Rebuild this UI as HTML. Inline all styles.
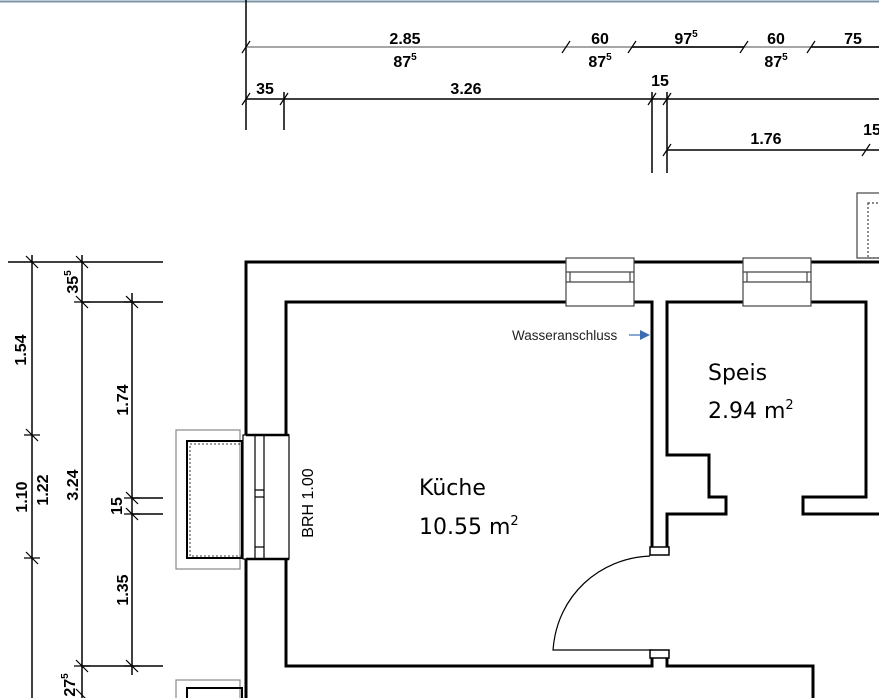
<!DOCTYPE html>
<html><head><meta charset="utf-8"><style>
html,body{margin:0;padding:0;background:#fff;}
svg{display:block;}
.d{font-family:"Liberation Sans",sans-serif;font-size:16px;fill:#000;font-weight:bold;}
.r{font-family:"DejaVu Sans","Liberation Sans",sans-serif;fill:#000;}
</style></head><body>
<svg width="879" height="698" viewBox="0 0 879 698" xmlns="http://www.w3.org/2000/svg">
<rect width="879" height="698" fill="#fff"/>
<line x1="0" y1="1.5" x2="879" y2="1.5" stroke="#7a94a8" stroke-width="2"/>
<g stroke="#000" stroke-width="1.5" fill="none">
<line x1="246" y1="0" x2="246" y2="130"/>
<line x1="246" y1="47" x2="879" y2="47" stroke="#888"/>
<line x1="632" y1="47" x2="744" y2="47"/>
<line x1="811" y1="47" x2="879" y2="47"/>
<line x1="246" y1="99" x2="879" y2="99"/>
<line x1="284" y1="92" x2="284" y2="130"/>
<line x1="652" y1="92" x2="652" y2="173"/>
<line x1="667" y1="92" x2="667" y2="173"/>
<line x1="667" y1="150" x2="879" y2="150"/>
<g stroke-width="1.2">
<path d="M242 53L250 41M562 53L570 41M628 53L636 41M740 53L748 41M807 53L815 41"/>
<path d="M242 105L250 93M280 105L288 93M648 105L656 93M663 105L671 93"/>
<path d="M663 156L671 144M862 156L870 144"/>
</g>
<line x1="8" y1="262" x2="163" y2="262"/>
<line x1="32" y1="255" x2="32" y2="698"/>
<line x1="82" y1="255" x2="82" y2="698"/>
<line x1="82" y1="302" x2="163" y2="302"/>
<line x1="82" y1="666" x2="163" y2="666"/>
<line x1="132" y1="293" x2="132" y2="675"/>
<line x1="132" y1="498" x2="163" y2="498"/>
<line x1="132" y1="514" x2="163" y2="514"/>
<g stroke-width="1.2">
<path d="M26 256L38 268M26 429L38 441M26 552L38 564"/>
<path d="M76 256L88 268M76 296L88 308M76 660L88 672M76 689L88 701"/>
<path d="M126 296L138 308M126 492L138 504M126 508L138 520M126 660L138 672"/>
<path d="M24 435H40M24 558H40M74 302H90M74 666H90M124 302H140M124 498H140M124 514H140M124 666H140"/>
</g>
<g stroke-width="3">
<path d="M246 698V559M246 435V262H566M634 262H743M811 262H879"/>
<path d="M286 558V666H652V650M286 435V302H566M634 302H652V552M667 552V514H726V497H709V455H667V302H743M811 302H866V497H803V514H879"/>
<path d="M667 650V666H813V698"/>
</g>
<g stroke-width="1.2" stroke="#444">
<rect x="566" y="258" width="68" height="48" fill="#fff"/>
<path d="M566 272H634M570 272V282M630 272V282M566 282H634"/>
<rect x="743" y="258" width="68" height="48" fill="#fff"/>
<path d="M743 272H811M747 272V282M807 272V282M743 282H811"/>
<rect x="857" y="193" width="30" height="65" fill="#fff"/>
<rect x="868" y="203" width="20" height="55" stroke-dasharray="2 2"/>
</g>
<rect x="176" y="430" width="64" height="139" stroke="#888" stroke-width="1.2"/>
<rect x="187" y="441" width="55" height="117" stroke-width="2"/>
<rect x="190" y="444" width="52" height="112" stroke-width="0.8" stroke-dasharray="2 2"/>
<rect x="243" y="435" width="46" height="124" stroke-width="1.2" fill="#fff"/>
<path d="M255 435V559M264 435V559M255 490H264M255 497H264M255 547H264" stroke-width="1.2"/>
<path d="M246 435H289M246 559H289" stroke-width="2.5"/>
<rect x="176" y="680" width="64" height="30" stroke="#888" stroke-width="1.2"/>
<rect x="187" y="688" width="55" height="20" stroke-width="2"/>
<rect x="650" y="547" width="19" height="8" stroke-width="1.5" fill="#fff"/>
<rect x="650" y="650" width="19" height="8" stroke-width="1.5" fill="#fff"/>
<path d="M650 556C600 558 557 595 553 650H652" stroke-width="1.2"/>
</g>
<g class="d" text-anchor="middle">
<text x="405" y="44">2.85</text><text x="405" y="67">87<tspan font-size="10" dy="-7">5</tspan></text>
<text x="600" y="44">60</text><text x="600" y="67">87<tspan font-size="10" dy="-7">5</tspan></text>
<text x="686" y="44">97<tspan font-size="10" dy="-7">5</tspan></text>
<text x="776" y="44">60</text><text x="776" y="67">87<tspan font-size="10" dy="-7">5</tspan></text>
<text x="853" y="44">75</text>
<text x="265" y="94">35</text><text x="466" y="94">3.26</text><text x="660" y="86">15</text>
<text x="766" y="144">1.76</text><text x="872" y="135">15</text>
<text transform="translate(26,350) rotate(-90)">1.54</text>
<text transform="translate(27,497) rotate(-90)">1.10</text>
<text transform="translate(48,490) rotate(-90)">1.22</text>
<text transform="translate(78,485) rotate(-90)">3.24</text>
<text transform="translate(78,282) rotate(-90)">35<tspan font-size="10" dy="-7">5</tspan></text>
<text transform="translate(75,685) rotate(-90)">27<tspan font-size="10" dy="-7">5</tspan></text>
<text transform="translate(128,400) rotate(-90)">1.74</text>
<text transform="translate(122,506) rotate(-90)">15</text>
<text transform="translate(128,590) rotate(-90)">1.35</text>
<text transform="translate(313,503) rotate(-90)" font-weight="normal" font-size="16">BRH 1.00</text>
</g>
<text class="r" x="419" y="495" font-size="22">Küche</text>
<text class="r" x="419" y="534" font-size="22">10.55  m<tspan font-size="13" dy="-9">2</tspan></text>
<text class="r" x="708" y="380" font-size="22">Speis</text>
<text class="r" x="708" y="418" font-size="22">2.94  m<tspan font-size="13" dy="-9">2</tspan></text>
<text x="512" y="340" font-family="Liberation Sans,sans-serif" font-size="13.5" fill="#222">Wasseranschluss</text>
<line x1="629" y1="335" x2="642" y2="335" stroke="#3a6fb0" stroke-width="1.2"/>
<path d="M640 330L650 335L640 340Z" fill="#3a6fb0"/>
</svg>
</body></html>
